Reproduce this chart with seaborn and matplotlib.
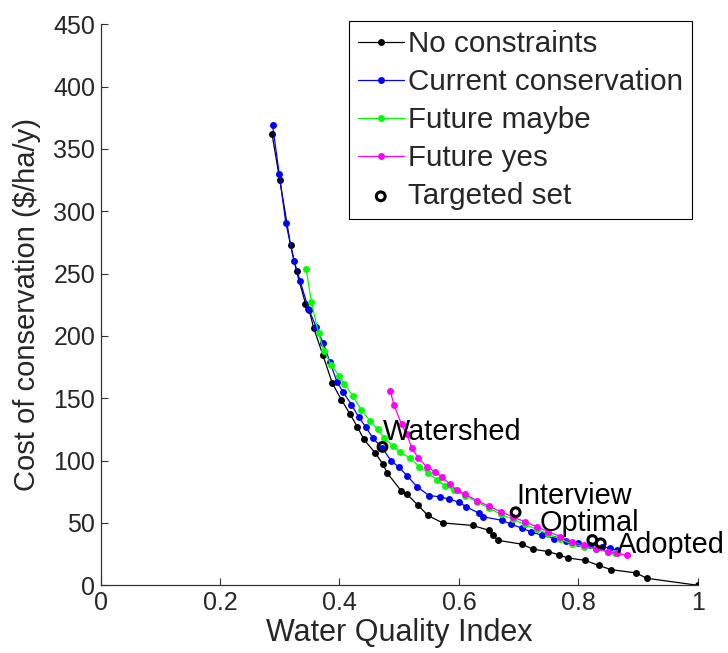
import numpy as np
import pandas as pd
import matplotlib
matplotlib.use("Agg")
import matplotlib.pyplot as plt
import seaborn as sns

# ---------------- data ----------------
nc_x = [0.287, 0.300, 0.318, 0.328, 0.343, 0.349, 0.357, 0.372, 0.388, 0.403,
        0.418, 0.430, 0.441, 0.460, 0.473, 0.480, 0.503, 0.513, 0.532, 0.548,
        0.573, 0.623, 0.651, 0.657, 0.666, 0.705, 0.724, 0.750, 0.767, 0.782,
        0.811, 0.834, 0.855, 0.896, 0.915, 1.000]
nc_y = [362, 325, 273, 252, 226, 221, 206, 185, 162, 149,
        137, 127, 117, 106, 97, 90, 76, 73, 64, 56,
        50, 48, 44, 40, 36, 33, 29, 27, 24.5, 22,
        20, 16, 12.5, 10, 5.6, 0]

cc_x = [0.288, 0.299, 0.310, 0.324, 0.334, 0.348, 0.361, 0.373, 0.384, 0.396,
        0.406, 0.420, 0.432, 0.444, 0.456, 0.472, 0.486, 0.499, 0.513, 0.530,
        0.550, 0.568, 0.584, 0.601, 0.612, 0.633, 0.640, 0.673, 0.687, 0.705,
        0.720, 0.740, 0.760, 0.780, 0.800, 0.820, 0.840, 0.853, 0.864]
cc_y = [369, 330, 291, 260, 244, 222, 207, 194, 179, 163,
        155, 145, 135, 127, 118, 110, 100, 95, 88, 79,
        72, 71, 69, 66.5, 63, 58, 55, 52, 49, 46,
        43, 40, 37.5, 35.5, 34, 32.5, 31, 30, 28]

fm_x = [0.344, 0.353, 0.365, 0.374, 0.386, 0.399, 0.408, 0.422, 0.436, 0.451,
        0.464, 0.475, 0.489, 0.501, 0.518, 0.534, 0.549, 0.563, 0.577, 0.591,
        0.610, 0.630, 0.650, 0.670, 0.690, 0.710, 0.730, 0.750, 0.770, 0.790,
        0.810, 0.830, 0.850, 0.861]
fm_y = [254, 227, 202, 188, 177, 168, 161.5, 152, 141, 132,
        125, 118, 112, 107, 102, 95, 90, 84.5, 80, 76.4,
        72, 67, 62, 57, 53, 49, 45, 41, 37, 33,
        31, 29, 27, 25.7]

fy_x = [0.485, 0.491, 0.504, 0.513, 0.521, 0.532, 0.546, 0.560, 0.571, 0.585,
        0.596, 0.610, 0.630, 0.650, 0.670, 0.690, 0.710, 0.730, 0.750, 0.770,
        0.790, 0.810, 0.830, 0.850, 0.865, 0.881]
fy_y = [156, 145, 129, 121, 110, 102, 95, 91, 87, 81,
        76.5, 73, 68, 63.5, 59, 55, 51, 47, 43, 39,
        35, 32, 29, 27, 25.5, 24]

target_x = [0.472, 0.695, 0.8235, 0.8375]
target_y = [111, 58.6, 36.3, 33.7]
target_names = ["Watershed", "Interview", "Optimal", "Adopted"]

series_names = ["No constraints", "Current conservation", "Future maybe", "Future yes"]
series_colors = ["#000000", "#0000ff", "#00ff00", "#ff00ff"]

x_ticks = [0, 0.2, 0.4, 0.6, 0.8, 1]
x_tick_labels = ["0", "0.2", "0.4", "0.6", "0.8", "1"]
y_ticks = [0, 50, 100, 150, 200, 250, 300, 350, 400, 450]
y_tick_labels = [str(v) for v in y_ticks]

# ---------------- plot ----------------
sns.set_theme(style="white")
plt.rcParams["font.family"] = ["Liberation Sans", "DejaVu Sans"]

fig = plt.figure(figsize=(7.28, 6.53), dpi=100)
ax = fig.add_axes([0.1383, 0.1037, 0.8201, 0.8591])

all_series = [(nc_x, nc_y), (cc_x, cc_y), (fm_x, fm_y), (fy_x, fy_y)]
for (xs, ys), name, col in zip(all_series, series_names, series_colors):
    df = pd.DataFrame({"x": xs, "y": ys})
    sns.lineplot(data=df, x="x", y="y", ax=ax, color=col, linewidth=0.9,
                 marker="o", markersize=5, markeredgewidth=0,
                 sort=False, estimator=None, label=name)

tdf = pd.DataFrame({"x": target_x, "y": target_y})
sns.scatterplot(data=tdf, x="x", y="y", ax=ax, marker="o", s=40,
                facecolor="none", edgecolor="black", linewidth=2.2,
                label="Targeted set", zorder=5)

label_pos = [(0.472, 123), (0.697, 72), (0.736, 49.7), (0.864, 32.3)]
for name, (lx, ly) in zip(target_names, label_pos):
    ax.text(lx, ly, name, fontsize=20.8, ha="left", va="center", color="black")

ax.set_xlim(0, 1)
ax.set_ylim(0, 450)
ax.set_xticks(x_ticks)
ax.set_xticklabels(x_tick_labels, fontsize=18)
ax.set_yticks(y_ticks)
ax.set_yticklabels(y_tick_labels, fontsize=18)
ax.tick_params(axis="both", direction="in", length=5, width=0.8,
               color="#333333", left=True, bottom=True)
ax.tick_params(axis="y", pad=4)
ax.tick_params(axis="x", pad=4)
sns.despine(ax=ax)
for sp in ["left", "bottom"]:
    ax.spines[sp].set_color("#333333")
    ax.spines[sp].set_linewidth(0.9)

ax.set_xlabel("Water Quality Index", fontsize=22, va="top")
ax.set_ylabel("Cost of conservation ($/ha/y)", fontsize=21)
ax.xaxis.set_label_coords(0.5, -0.058)
ax.yaxis.set_label_coords(-0.10, 0.5)

leg = ax.legend(loc="upper right", bbox_to_anchor=(0.9904, 1.0059),
                frameon=True, fancybox=False, framealpha=1, fontsize=21.3,
                handlelength=1.55, handletextpad=0.15, labelspacing=0.34,
                borderpad=0.3, borderaxespad=0, scatterpoints=1, numpoints=1)
leg.get_frame().set_edgecolor("black")
leg.get_frame().set_linewidth(0.8)

fig.savefig("out.png", dpi=100)
